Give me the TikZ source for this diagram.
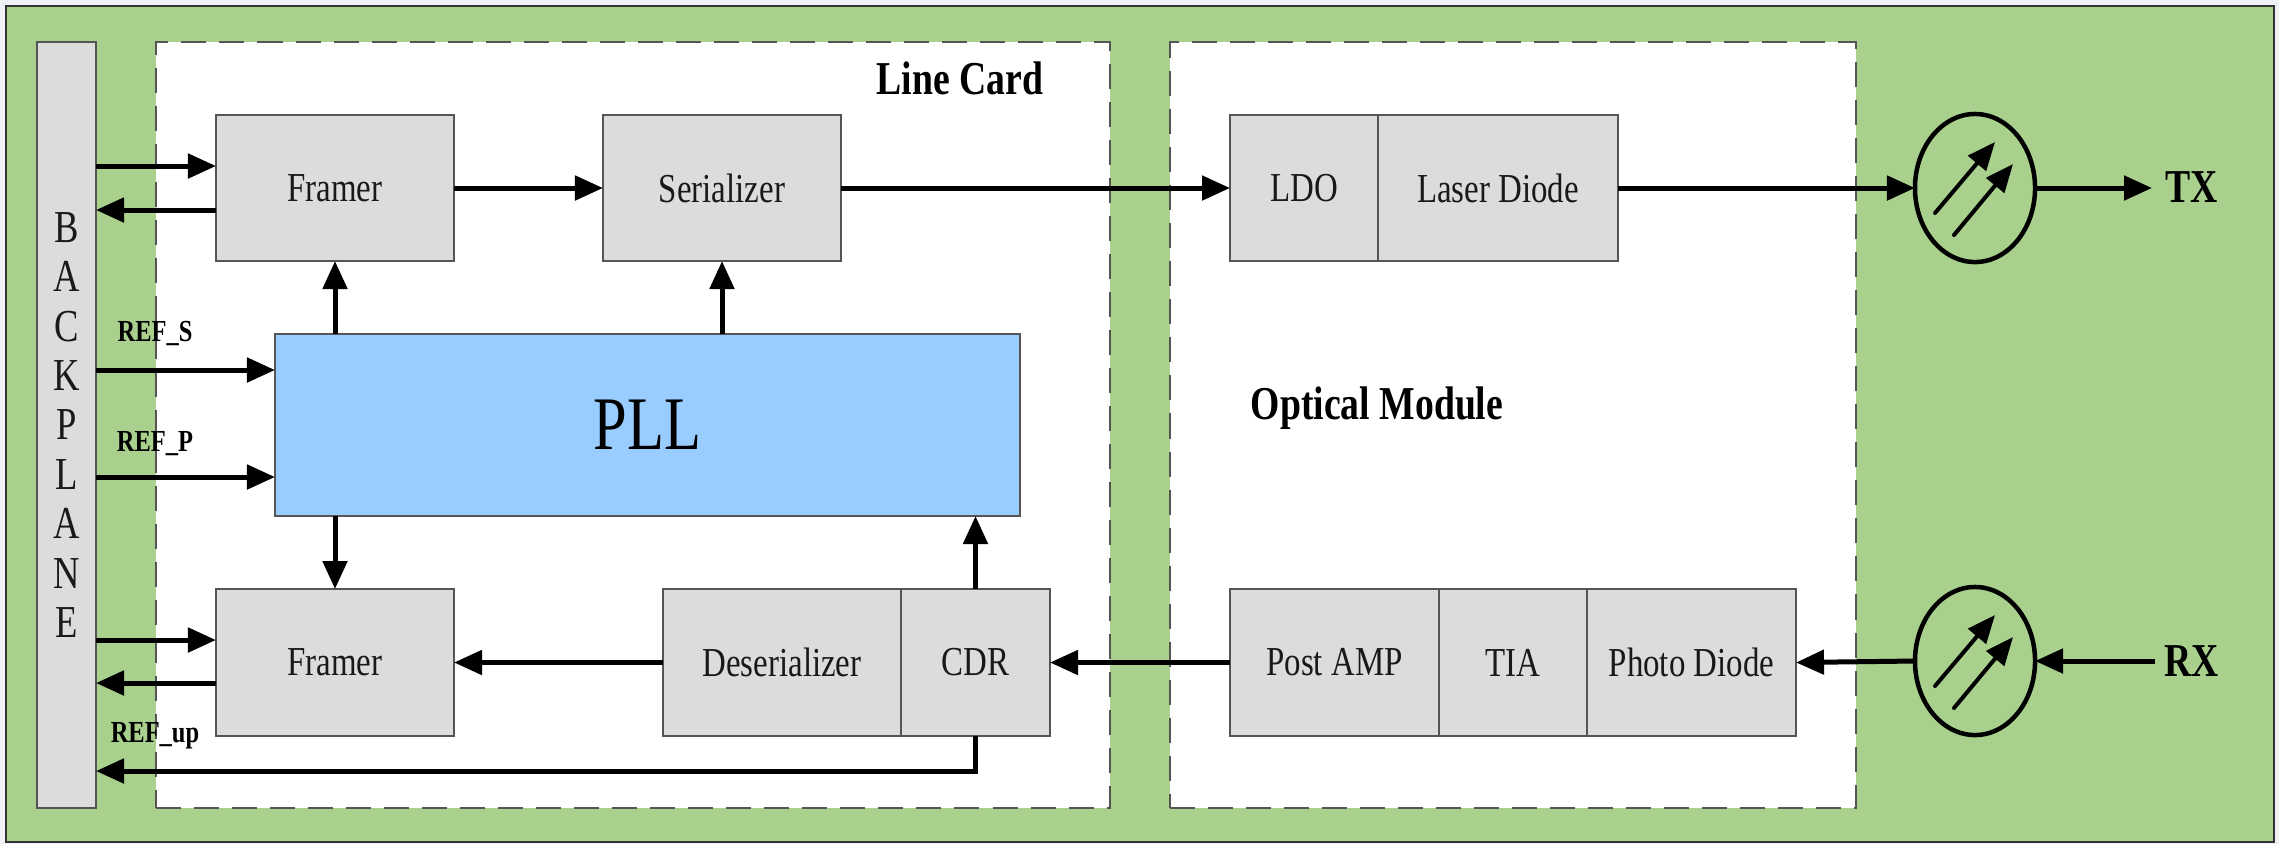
\documentclass[tikz,border=0pt]{standalone}
\usepackage{fontspec}
\setmainfont{Liberation Serif}
\newfontfamily\cf[FakeStretch=0.8]{Liberation Serif}
\usetikzlibrary{arrows.meta,shapes.geometric}
\definecolor{pagebg}{HTML}{EEF2F6}
\definecolor{greenbg}{HTML}{A9D18D}
\definecolor{blockgray}{HTML}{DCDCDC}
\definecolor{pllblue}{HTML}{99CCFF}
\definecolor{edgegray}{HTML}{555555}
\tikzset{
  x=0.01cm,y=-0.01cm,
  block/.style={draw=edgegray,fill=blockgray,line width=0.02cm,inner sep=0pt,outer sep=0pt,font=\cf\fontsize{11.7}{14}\selectfont,text=black!90},
  pllblock/.style={block,fill=pllblue,font=\cf\fontsize{21.5}{24}\selectfont,text=black},
  region/.style={draw=edgegray,fill=white,line width=0.02cm,dash pattern=on 0.25cm off 0.13cm,inner sep=0pt,outer sep=0pt},
  lab/.style={font=\cf\bfseries\fontsize{8.7}{10}\selectfont,inner sep=0pt,text=black},
  biglab/.style={font=\cf\bfseries\fontsize{13.4}{15}\selectfont,inner sep=0pt,text=black},
  conn/.style={line width=0.05cm,-{Triangle[length=0.28cm,width=0.24cm]}},
  lens/.style={ellipse,draw=black,line width=0.045cm,minimum width=1.2cm,minimum height=1.48cm,inner sep=0pt,outer sep=0pt},
  ray/.style={line width=0.04cm,line cap=round,-{Triangle[length=0.28cm,width=0.23cm]}}
}
\newcommand{\bx}[7][block]{%
  \node[#1,minimum width={(#5-#3)*0.01cm},minimum height={(#6-#4)*0.01cm}] (#2) at ({(#3+#5)/2},{(#4+#6)/2}) {#7};}
\begin{document}
\begin{tikzpicture}
\useasboundingbox (0,0) rectangle (2279,844);
\fill[pagebg] (0,0) rectangle (2279,844);
\node[draw=black!80,fill=greenbg,line width=0.02cm,inner sep=0pt,minimum width=22.66cm,minimum height=8.36cm] (frame) at (1140,424) {};
\bx[region]{linecard}{156}{42}{1110}{808}{}
\bx[region]{optical}{1170}{42}{1856}{808}{}
\bx[block,align=center,font=\cf\fontsize{13}{14.05}\selectfont]{bp}{37}{42}{96}{808}{B\\A\\C\\K\\P\\L\\A\\N\\E}
\bx{fra}{216}{115}{454}{261}{Framer}
\bx{ser}{603}{115}{841}{261}{Serializer}
\bx{ldo}{1230}{115}{1378}{261}{LDO}
\bx{laser}{1378}{115}{1618}{261}{Laser Diode}
\bx[pllblock]{pll}{275}{334}{1020}{516}{PLL}
\bx{frb}{216}{589}{454}{736}{Framer}
\bx{des}{663}{589}{901}{736}{Deserializer}
\bx{cdr}{901}{589}{1050}{736}{CDR}
\bx{amp}{1230}{589}{1439}{736}{Post AMP}
\bx{tia}{1439}{589}{1587}{736}{TIA}
\bx{photo}{1587}{589}{1796}{736}{Photo Diode}
\node[lens] (etx) at (1975,188) {};
\node[lens] (erx) at (1975,661) {};
\node[biglab] (lcl) at (960,78) {Line Card};
\node[biglab] (oml) at (1377,408) {Optical Module};
\node[lab] (refs) at (155,333) {REF\_S};
\node[lab] (refp) at (155,444) {REF\_P};
\node[lab] (refu) at (155,736) {REF\_up};
\node[biglab,anchor=west,inner xsep=0.13cm] (txl) at (2152,187) {TX};
\node[biglab,anchor=west,inner xsep=0.09cm] (rxl) at (2155,661) {RX};
\coordinate (y1) at (0,166);
\coordinate (y2) at (0,210);
\coordinate (y3) at (0,370);
\coordinate (y4) at (0,477);
\coordinate (y5) at (0,640);
\coordinate (y6) at (0,683);
\coordinate (y7) at (0,771);
\draw[conn] (y1 -| bp.east) -- (y1 -| fra.west);
\draw[conn] (y2 -| fra.west) -- (y2 -| bp.east);
\draw[conn] (y3 -| bp.east) -- (y3 -| pll.west);
\draw[conn] (y4 -| bp.east) -- (y4 -| pll.west);
\draw[conn] (y5 -| bp.east) -- (y5 -| frb.west);
\draw[conn] (y6 -| frb.west) -- (y6 -| bp.east);
\draw[conn] (cdr.south) -- (y7 -| cdr.south) -- (y7 -| bp.east);
\draw[conn] (fra.east) -- (ser.west);
\draw[conn] (ser.east) -- (ldo.west);
\draw[conn] (laser.east) -- (etx.west);
\draw[conn] (etx.east) -- (etx.east -| txl.west);
\draw[conn] (pll.north -| fra.south) -- (fra.south);
\draw[conn] (pll.north -| ser.south) -- (ser.south);
\draw[conn] (pll.south -| frb.north) -- (frb.north);
\draw[conn] (cdr.north) -- (pll.south -| cdr.north);
\draw[conn] (des.west) -- (frb.east);
\draw[conn] (amp.west) -- (cdr.east);
\draw[conn] (erx.west) -- (photo.east);
\draw[conn] (erx.east -| rxl.west) -- (erx.east);
\foreach \e in {etx,erx}{
  \draw[ray,shift={(\e.center)}] (-40,25) -- (20,-46);
  \draw[ray,shift={(\e.center)}] (-21,47) -- (38,-24);
}
\end{tikzpicture}
\end{document}
